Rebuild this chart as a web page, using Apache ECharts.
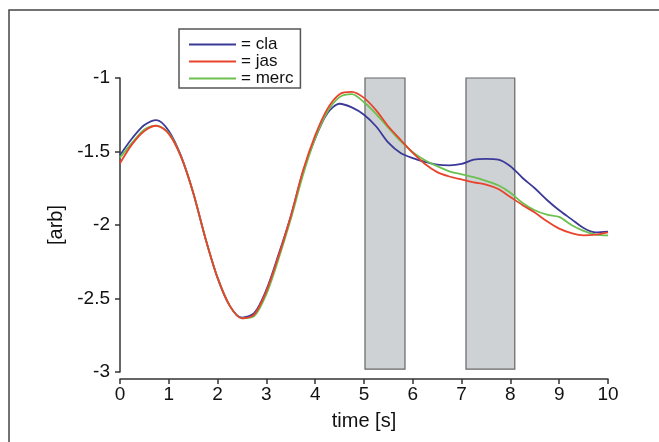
<!DOCTYPE html>
<html>
<head>
<meta charset="utf-8">
<script src="https://cdn.jsdelivr.net/npm/echarts@6/dist/echarts.min.js"></script>
<style>html,body{margin:0;padding:0;background:#fff;}#c{width:659px;height:442px;}</style>
</head>
<body>
<div id="c"></div>
<script>
const time = [0,0.25,0.5,0.75,1,1.25,1.5,1.75,2,2.25,2.5,2.75,3,3.25,3.5,3.75,4,4.25,4.5,4.75,5,5.25,5.5,5.75,6,6.25,6.5,6.75,7,7.25,7.5,7.75,8,8.25,8.5,8.75,9,9.25,9.5,9.75,10];
const cla  = [-1.525,-1.41,-1.32,-1.286,-1.36,-1.53,-1.78,-2.09,-2.36,-2.55,-2.63,-2.60,-2.44,-2.20,-1.94,-1.64,-1.41,-1.24,-1.175,-1.20,-1.25,-1.33,-1.44,-1.51,-1.545,-1.57,-1.59,-1.595,-1.585,-1.555,-1.55,-1.555,-1.60,-1.68,-1.75,-1.83,-1.90,-1.96,-2.02,-2.05,-2.045];
const jas  = [-1.58,-1.45,-1.36,-1.325,-1.38,-1.535,-1.78,-2.09,-2.36,-2.55,-2.635,-2.61,-2.45,-2.21,-1.94,-1.63,-1.39,-1.21,-1.11,-1.095,-1.135,-1.22,-1.33,-1.42,-1.51,-1.585,-1.64,-1.67,-1.69,-1.71,-1.725,-1.755,-1.81,-1.865,-1.915,-1.975,-2.025,-2.055,-2.07,-2.065,-2.05];
const merc = [-1.542,-1.44,-1.35,-1.324,-1.375,-1.535,-1.78,-2.09,-2.36,-2.55,-2.635,-2.62,-2.47,-2.23,-1.96,-1.66,-1.41,-1.23,-1.13,-1.11,-1.165,-1.245,-1.34,-1.43,-1.505,-1.56,-1.60,-1.635,-1.655,-1.675,-1.70,-1.73,-1.78,-1.85,-1.90,-1.93,-1.945,-2.0,-2.04,-2.065,-2.07];
const boxes = [[5.02, 5.84], [7.09, 8.09]];
const boxY = [-1, -2.98];
const yTicks = [-3, -1, 0.5];

const font = 'Liberation Sans, Arial, sans-serif';
const chart = echarts.init(document.getElementById('c'), null, {renderer: 'canvas'});
const mk = (arr) => time.map((t, i) => [t, arr[i]]);
chart.setOption({
  animation: false,
  backgroundColor: '#fff',
  grid: {left: 120, right: 51, top: 78, bottom: 70},
  graphic: [{
    type: 'polyline', silent: true,
    shape: {points: [[9, 442], [9, 10], [659, 10]]},
    style: {stroke: '#444', lineWidth: 1.5, fill: null}
  }],
  legend: {
    left: 179, top: 29, orient: 'vertical',
    padding: [7, 7, 1, 10], itemGap: 0,
    itemWidth: 47, itemHeight: 2, icon: 'rect',
    borderColor: '#555', borderWidth: 1.5, backgroundColor: '#fff',
    formatter: n => '= ' + n,
    textStyle: {fontFamily: font, fontSize: 17, color: '#111', lineHeight: 16, padding: [0, 0, 0, 0]},
    data: ['cla', 'jas', 'merc']
  },
  xAxis: {
    type: 'value', min: 0, max: 10, interval: 1, offset: 7,
    name: 'time [s]', nameLocation: 'middle', nameGap: 32,
    nameTextStyle: {fontFamily: font, fontSize: 20, color: '#111'},
    axisLine: {lineStyle: {color: '#333', width: 1.5}},
    axisTick: {length: 5, lineStyle: {color: '#333', width: 1.5}},
    axisLabel: {fontFamily: font, fontSize: 19, color: '#111', margin: 6},
    splitLine: {show: false}
  },
  yAxis: {
    type: 'value', min: yTicks[0], max: yTicks[1], interval: yTicks[2],
    name: '[arb]', nameLocation: 'middle', nameGap: 46, nameRotate: 90,
    nameTextStyle: {fontFamily: font, fontSize: 20, color: '#111'},
    axisLine: {show: true, lineStyle: {color: '#333', width: 1.5}},
    axisTick: {show: true, length: 5, lineStyle: {color: '#333', width: 1.5}},
    axisLabel: {fontFamily: font, fontSize: 19, color: '#111', margin: 10},
    splitLine: {show: false}
  },
  series: [
    {
      type: 'line', name: 'boxes', data: [], z: 1, silent: true,
      markArea: {
        silent: true,
        itemStyle: {color: '#cfd2d5', borderColor: '#666', borderWidth: 1.2},
        data: boxes.map(b => [{xAxis: b[0], yAxis: boxY[0]}, {xAxis: b[1], yAxis: boxY[1]}])
      }
    },
    {type: 'line', name: 'cla', data: mk(cla), smooth: 0.3, showSymbol: false, z: 3,
     lineStyle: {color: '#3b3a98', width: 1.8}, itemStyle: {color: '#3b3a98'}},
    {type: 'line', name: 'merc', data: mk(merc), smooth: 0.3, showSymbol: false, z: 3,
     lineStyle: {color: '#6cc04e', width: 1.8}, itemStyle: {color: '#6cc04e'}},
    {type: 'line', name: 'jas', data: mk(jas), smooth: 0.3, showSymbol: false, z: 3,
     lineStyle: {color: '#e8432c', width: 1.8}, itemStyle: {color: '#e8432c'}}
  ]
});
</script>
</body>
</html>
